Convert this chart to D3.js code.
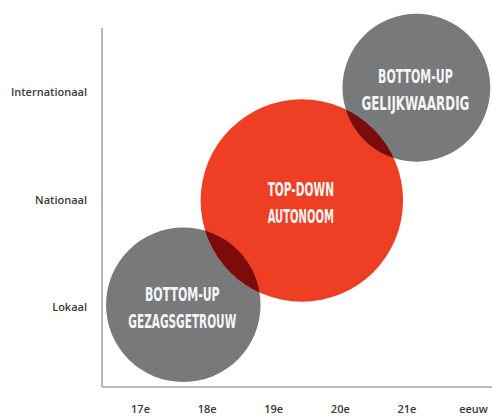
<!DOCTYPE html>
<html>
<head>
<meta charset="utf-8">
<script src="https://cdn.jsdelivr.net/npm/d3@7"></script>
<style>
  body { margin: 0; background: #fff; }
  .axis text { font-family: "Open Sans", "Noto Sans", sans-serif; font-weight: 600; fill: #3a3a3a; }
  .bubble-label { font-family: "Liberation Sans Narrow", "DejaVu Sans Condensed", "DejaVu Sans", sans-serif; font-weight: bold; font-stretch: condensed; fill: #f5f5f5; }
</style>
</head>
<body>
<svg width="492" height="417"></svg>
<script>
// categories on the axes
var centuries = ['17e', '18e', '19e', '20e', '21e', 'eeuw'];
var levels = ['Lokaal', 'Nationaal', 'Internationaal'];

// bubbles: position in century index / level index, radius in century units
var bubbleTop = ['BOTTOM-UP', 'TOP-DOWN', 'BOTTOM-UP'];
var bubbleBottom = ['GEZAGSGETROUW', 'AUTONOOM', 'GELIJKWAARDIG'];
var bubbleX = [0.65, 2.43, 4.15];
var bubbleY = [0.02, 0.99, 2.04];
var bubbleR = [1.16, 1.52, 1.11];
var bubbleKind = ['grey', 'red', 'grey'];

var colors = { grey: '#78797b', red: '#ee3f25', overlap: '#7c0b0b' };

var svg = d3.select('svg');

var origin = { x: 102, y: 387 };

var xScale = d3.scaleLinear().domain([0, centuries.length - 1]).range([140, 473]);
var yScale = d3.scaleLinear().domain([0, levels.length - 1]).range([307, 92]);

// radius expressed in x units
function rPx(r) {
  return xScale(r) - xScale(0);
}

var bubbles = bubbleX.map(function (x, i) {
  return { x: x, y: bubbleY[i], r: bubbleR[i], kind: bubbleKind[i], top: bubbleTop[i], bottom: bubbleBottom[i], id: i };
});

// clip paths for the grey bubbles, used to draw the overlap with the red one
var defs = svg.append('defs');
bubbles.filter(function (d) { return d.kind === 'grey'; }).forEach(function (d) {
  defs.append('clipPath')
    .attr('id', 'clip' + d.id)
    .append('circle')
    .attr('cx', xScale(d.x))
    .attr('cy', yScale(d.y))
    .attr('r', rPx(d.r));
});

var circleGrp = svg.append('g');
circleGrp.selectAll('circle.bubble')
  .data(bubbles)
  .enter()
  .append('circle')
  .classed('bubble', true)
  .attr('cx', function (d) { return xScale(d.x); })
  .attr('cy', function (d) { return yScale(d.y); })
  .attr('r', function (d) { return rPx(d.r); })
  .attr('fill', function (d) { return colors[d.kind]; });

// darker red where the red bubble lies over a grey one
var red = bubbles.filter(function (d) { return d.kind === 'red'; })[0];
circleGrp.selectAll('circle.overlap')
  .data(bubbles.filter(function (d) { return d.kind === 'grey'; }))
  .enter()
  .append('circle')
  .classed('overlap', true)
  .attr('clip-path', function (d) { return 'url(#clip' + d.id + ')'; })
  .attr('cx', xScale(red.x))
  .attr('cy', yScale(red.y))
  .attr('r', rPx(red.r))
  .attr('fill', colors.overlap);

// labels inside the bubbles
var labelGrp = svg.append('g');
var lines = [];
bubbles.forEach(function (d) {
  lines.push({ text: d.top, x: xScale(d.x) - 1, y: yScale(d.y) - 11 });
  lines.push({ text: d.bottom, x: xScale(d.x) - 1, y: yScale(d.y) + 16 });
});
labelGrp.selectAll('text')
  .data(lines)
  .enter()
  .append('text')
  .classed('bubble-label', true)
  .attr('x', function (d) { return d.x; })
  .attr('y', function (d) { return d.y; })
  .attr('dy', '0.35em')
  .attr('text-anchor', 'middle')
  .style('font-size', '19px')
  .attr('textLength', function (d) { return d.text.length * 8.3; })
  .attr('lengthAdjust', 'spacingAndGlyphs')
  .text(function (d) { return d.text; });

// axis lines
svg.append('line')
  .attr('x1', origin.x).attr('x2', origin.x)
  .attr('y1', 28).attr('y2', origin.y)
  .attr('stroke', '#a6a6a6').attr('stroke-width', 1.6);
svg.append('line')
  .attr('x1', origin.x).attr('x2', 492)
  .attr('y1', origin.y).attr('y2', origin.y)
  .attr('stroke', '#a6a6a6').attr('stroke-width', 1.6);

// tick labels
var xAxis = svg.append('g')
  .classed('axis', true)
  .attr('transform', 'translate(0,' + origin.y + ')')
  .call(d3.axisBottom(xScale)
    .tickValues(d3.range(centuries.length))
    .tickFormat(function (i) { return centuries[i]; })
    .tickSize(0)
    .tickPadding(18));
xAxis.select('.domain').remove();
xAxis.selectAll('text').style('font-size', '11px');

var yAxis = svg.append('g')
  .classed('axis', true)
  .attr('transform', 'translate(' + origin.x + ',0)')
  .call(d3.axisLeft(yScale)
    .tickValues(d3.range(levels.length))
    .tickFormat(function (i) { return levels[i]; })
    .tickSize(0)
    .tickPadding(15));
yAxis.select('.domain').remove();
yAxis.selectAll('text').style('font-size', '11px');
</script>
</body>
</html>
